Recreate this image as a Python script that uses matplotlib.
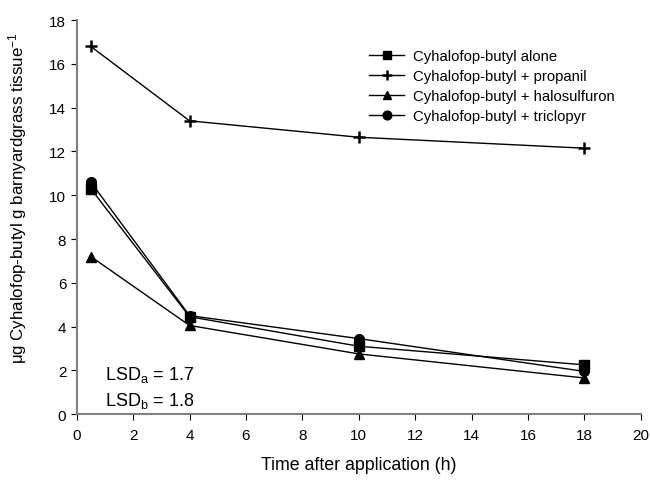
import matplotlib
matplotlib.use("Agg")
import matplotlib.pyplot as plt

plt.rcParams['font.family'] = ['Liberation Sans', 'DejaVu Sans']
plt.rcParams['mathtext.fontset'] = 'custom'
plt.rcParams['mathtext.rm'] = 'Liberation Sans'
plt.rcParams['mathtext.it'] = 'Liberation Sans'

times = [0.5, 4, 10, 18]
alone = [10.3, 4.45, 3.1, 2.25]
propanil = [16.8, 13.4, 12.65, 12.15]
halosulfuron = [7.2, 4.05, 2.75, 1.65]
triclopyr = [10.6, 4.5, 3.45, 1.95]
labels = ["Cyhalofop-butyl alone", "Cyhalofop-butyl + propanil",
          "Cyhalofop-butyl + halosulfuron", "Cyhalofop-butyl + triclopyr"]
xticks = list(range(0, 21, 2))
yticks = list(range(0, 19, 2))

fig = plt.figure(figsize=(6.5, 4.81), dpi=100)
ax = fig.add_axes([0.118, 0.137, 0.868, 0.819])

ax.plot(times, alone, '-s', color='black', lw=1, ms=7, label=labels[0])
ax.plot(times, propanil, '-+', color='black', lw=1, ms=8, mew=1.8, label=labels[1])
ax.plot(times, halosulfuron, '-^', color='black', lw=1, ms=7, label=labels[2])
ax.plot(times, triclopyr, '-o', color='black', lw=1, ms=7, label=labels[3])

ax.set_xlim(0, 20)
ax.set_ylim(0, 18)
ax.set_xticks(xticks)
ax.set_yticks(yticks)
for s in ['top', 'right']:
    ax.spines[s].set_visible(False)
for s in ['left', 'bottom']:
    ax.spines[s].set_color('#808080')
    ax.spines[s].set_linewidth(1.5)
ax.tick_params(direction='out', length=4, color='black', labelsize=11)
ax.tick_params(axis='x', pad=6)
ax.set_xlabel('Time after application (h)', fontsize=12.8, labelpad=10)
ax.set_ylabel(r'μg Cyhalofop-butyl g barnyardgrass tissue$^{\mathrm{-1}}$', fontsize=12.2)
ax.yaxis.set_label_coords(-0.085, 0.55)

ax.text(1.0, 1.85, r'LSD$_\mathrm{a}$ = 1.7', fontsize=13, va='center')
ax.text(1.0, 0.65, r'LSD$_\mathrm{b}$ = 1.8', fontsize=13, va='center')

ax.legend(loc='upper left', bbox_to_anchor=(0.495, 0.96), frameon=False,
          fontsize=10.7, handlelength=2.35, labelspacing=0.4, handletextpad=0.6,
          markerscale=0.9)

fig.savefig('out.png', dpi=100)
